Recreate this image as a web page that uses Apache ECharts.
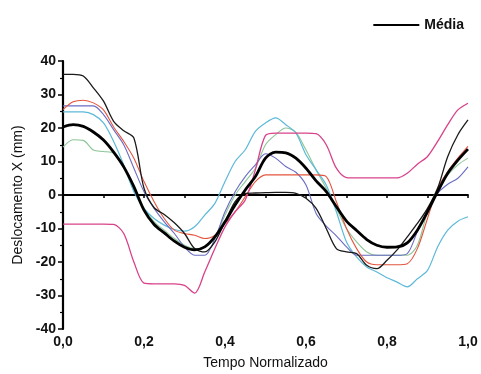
<!DOCTYPE html>
<html>
<head>
<meta charset="utf-8">
<script src="https://cdn.jsdelivr.net/npm/echarts@6/dist/echarts.min.js"></script>
<style>
html,body{margin:0;padding:0;background:#fff;}
#chart{width:481px;height:374px;}
</style>
</head>
<body>
<div id="chart"></div>
<script>
// Normalized time (shared sampling for every curve)
const tempo = [0,0.025,0.05,0.075,0.1,0.125,0.15,0.175,0.2,0.225,0.25,0.275,0.3,0.325,0.35,0.375,0.4,0.425,0.45,0.475,0.5,0.525,0.55,0.575,0.6,0.625,0.65,0.675,0.7,0.725,0.75,0.775,0.8,0.825,0.85,0.875,0.9,0.925,0.95,0.975,1.0];

const media = [20.3,21,20.5,18.8,16.4,12.8,8.4,2.5,-4.5,-8.8,-11.3,-13.8,-15.6,-16.4,-15.5,-12.5,-8,-3,1.5,5.5,11,12.8,12.6,11,8,4.2,1,-3.5,-7.8,-10.6,-13.3,-15,-15.6,-15.5,-14.3,-10.5,-5,1,6.5,10.4,13.7];
const preto = [36,36,35.5,32,28,22,19.2,17,2,-3.8,-5.8,-8.3,-11.5,-16,-17,-14,-8,-2,0.5,0.6,0.7,0.8,0.8,0.5,-1,-4,-10,-16,-17,-17.5,-21,-22,-19.5,-16.4,-12.5,-8.5,-4,2,11.5,18,22.4];
const vermelho = [25.5,27.8,28.3,27.5,25.4,20.3,16,11,4,-2,-7,-10.5,-11.5,-12,-13,-12,-8.5,-5,-0.5,4,6,6,6,6,6,6,5.5,-2,-10,-16,-20,-20.8,-20.8,-20.8,-20.5,-16,-7,2,7,11,14.5];
const rosa = [-8.7,-8.7,-8.7,-8.7,-8.7,-8.8,-11.5,-20,-26.3,-26.5,-26.5,-26.5,-27,-29.3,-23,-16,-9.5,-5,-1.5,7.5,17.8,18.5,18.5,18.5,18.5,18.3,15,8,5.2,5.1,5.1,5.1,5.1,5.1,6.5,9.2,11.5,16,21,25.4,27.4];
const ciano = [24.8,24.8,24.8,24,21.5,16,9,1,-4,-7,-9,-10.3,-10.8,-9.5,-6,-2.5,4,10,13.5,19,21.5,23,21,18.5,12,7.5,3,-5,-14,-18.5,-21.5,-23,-24.7,-26,-27.4,-25,-22.5,-15.5,-10.5,-7.8,-6.5];
const azul = [26.6,26.6,26.6,26.6,24,19.5,15,8,1,-4,-8,-11.5,-15.5,-18,-18,-13,-5,1,5.5,9,12.3,11,8.5,6.8,3,-5.5,-9.3,-12.2,-15.5,-18,-18,-18,-18,-18,-17.5,-11,-5,0.5,3.2,5,8.4];
const verde = [14.3,16.5,16.3,13.4,13,12.5,8,1.5,-4,-8,-10.5,-13,-15,-16,-15.5,-12.5,-6,0,4,8,15,18,20,18.7,13.4,7.5,2,-4,-10,-14,-17,-18,-18,-18,-18,-15,-5,2,6,9,11];

const yTicks = [-40,-30,-20,-10,0,10,20,30,40];
const xTicks = ['0,0','0,2','0,4','0,6','0,8','1,0'];

function pts(arr){ return tempo.map((t,i)=>[t, arr[i]]); }

const font = 'Liberation Sans, Arial, sans-serif';
function line(name, arr, color, width, z){
  return {
    name: name, type:'line', data: pts(arr), xAxisIndex:0, yAxisIndex:0,
    showSymbol:false, smooth:0.3, z:z,
    lineStyle:{color:color, width:width}, itemStyle:{color:color},
    emphasis:{disabled:true}, silent:true, animation:false
  };
}

const chart = echarts.init(document.getElementById('chart'));
chart.setOption({
  animation:false,
  backgroundColor:'#fff',
  textStyle:{fontFamily:font},
  legend:{
    data:[{name:'Média', icon:'rect'}],
    right:12, top:13, itemWidth:46, itemHeight:2, itemGap:5,
    textStyle:{fontFamily:font, fontSize:14, fontWeight:'bold', color:'#111'}
  },
  grid:{left:63, right:13, top:61, bottom:45, outerBoundsMode:'none'},
  xAxis:[{
    type:'value', min:0, max:1, interval:0.2, position:'bottom',
    axisLine:{show:false, onZero:false}, axisTick:{show:false}, splitLine:{show:false},
    axisLabel:{margin:6, fontSize:14, fontWeight:'bold', color:'#111', fontFamily:font,
      formatter:function(v){ const i=Math.round(v/0.2); return xTicks[i]!==undefined?xTicks[i]:''; }},
    name:'Tempo Normalizado', nameLocation:'middle', nameGap:27,
    nameTextStyle:{fontSize:14, color:'#111', fontFamily:font}
  },{
    type:'value', min:0, max:1, interval:0.1, position:'top',
    axisLine:{show:true, onZero:true, onZeroAxisIndex:0, lineStyle:{color:'#000', width:1.8}},
    axisTick:{show:true, inside:true, length:3, lineStyle:{color:'#000', width:1.5}},
    axisLabel:{show:false}, splitLine:{show:false}
  }],
  yAxis:{
    type:'value', min:-40, max:40, interval:10,
    axisLine:{show:true, onZero:false, lineStyle:{color:'#000', width:2.2}},
    axisTick:{show:true, length:5, lineStyle:{color:'#000', width:1.5}},
    minorTick:{show:true, splitNumber:2, length:3, lineStyle:{color:'#000', width:1.2}},
    splitLine:{show:false},
    axisLabel:{margin:7, fontSize:14, fontWeight:'bold', color:'#111', fontFamily:font,
      formatter:function(v){ return yTicks.indexOf(v)>=0 ? String(v) : ''; }},
    name:'Deslocamento X (mm)', nameLocation:'middle', nameGap:32,
    nameTextStyle:{fontSize:14, color:'#111', fontFamily:font}
  },
  series:[
    line('verde', verde, '#8cc596', 1.1, 2),
    line('ciano', ciano, '#5cb9d8', 1.2, 2),
    line('azul', azul, '#6a6cc4', 1.1, 3),
    line('vermelho', vermelho, '#e4553f', 1.1, 3),
    line('rosa', rosa, '#d8428a', 1.3, 3),
    line('preto', preto, '#1a1a1a', 1.3, 4),
    line('Média', media, '#000', 2.8, 5)
  ]
});
</script>
</body>
</html>
